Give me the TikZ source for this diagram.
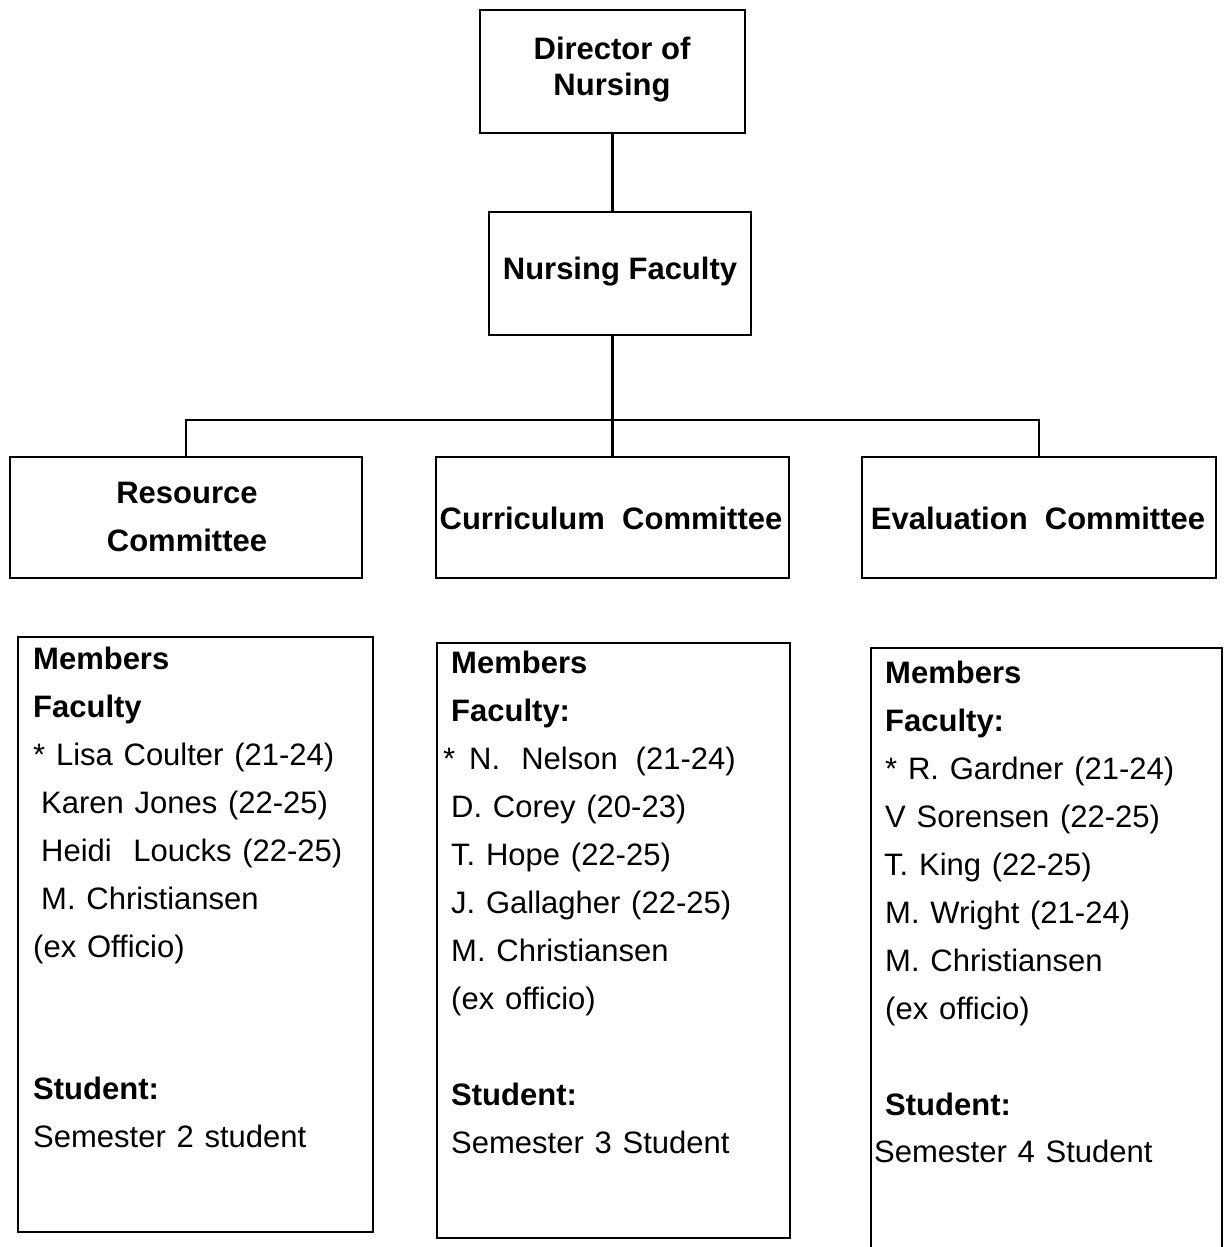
\documentclass[tikz,border=0pt]{standalone}
\usepackage{fontspec}
\setmainfont{Liberation Sans}
\newfontfamily\memfont{Liberation Sans}[WordSpace=1.25]
\begin{document}
\begin{tikzpicture}[x=1pt,y=-1pt,
  box/.style={draw=black,line width=2.6pt,inner sep=0pt,fill=white},
  head/.style={font=\bfseries\fontsize{31}{36}\selectfont,align=center,inner sep=0pt},
  mtext/.style={anchor=base west,inner sep=0pt,font=\memfont\fontsize{31}{37}\selectfont},
  link/.style={draw=black,line width=2.6pt}]
\clip (0,0) rectangle (1224,1247);
\fill[white] (0,0) rectangle (1224,1247);

% top boxes
\node[box,minimum width=265pt,minimum height=123pt] (dir) at (612.5,71.5) {};
\node[head] (dirt) at (612,70) {Director of\\[0pt]Nursing};
\node[box,minimum width=262pt,minimum height=123pt] (fac) at (620,273.5) {};
\node[head] (fact) at (620,272) {Nursing Faculty};

% committees
\node[box,minimum width=352pt,minimum height=121pt] (res) at (186,517.5) {};
\node[head,font=\bfseries\fontsize{31}{48}\selectfont] (rest) at (187,517) {Resource\\Committee};
\node[box,minimum width=353pt,minimum height=121pt] (cur) at (612.5,517.5) {};
\node[head] (curt) at (611,518) {Curriculum\ \ Committee};
\node[box,minimum width=354pt,minimum height=121pt] (eva) at (1039,517.5) {};
\node[head] (evat) at (1038,518) {Evaluation\ \ Committee};

% connectors
\coordinate (bus) at (612.5,420);
\path[link] (dir.south -| bus) -- (bus |- fac.north);
\path[link] (fac.south -| bus) -- (bus);
\path[link] (res.north) -- (res.north |- bus) -- (eva.north |- bus) -- (eva.north);
\path[link] (bus) -- (cur.north);

% member boxes
\node[box,minimum width=355pt,minimum height=595pt] (mres) at (195.5,934.5) {};
\node[box,minimum width=353pt,minimum height=595pt] (mcur) at (613.5,940.5) {};
\node[box,minimum width=351pt,minimum height=660pt] (meva) at (1046.5,978) {};

% member texts
\foreach \tx/\ty/\tt [count=\i] in {
  33/669/{\bfseries Members},
  33/717/{\bfseries Faculty},
  33/765/{* Lisa Coulter (21-24)},
  41/813/{Karen Jones (22-25)},
  41/861/{Heidi\ \ Loucks (22-25)},
  41/909/{M. Christiansen},
  33/957/{(ex Officio)},
  33/1099/{\bfseries Student:},
  33/1147/{Semester 2 student}}
  \node[mtext] (ra\i) at (\tx,\ty) {\tt};

\foreach \tx/\ty/\tt [count=\i] in {
  451/673/{\bfseries Members},
  451/721/{\bfseries Faculty:},
  443/769/{*\hspace{14pt}N.\hspace{21pt}Nelson\hspace{18pt}(21-24)},
  451/817/{D. Corey (20-23)},
  451/865/{T. Hope (22-25)},
  451/913/{J. Gallagher (22-25)},
  451/961/{M. Christiansen},
  451/1009/{(ex officio)},
  451/1105/{\bfseries Student:},
  451/1153/{Semester 3 Student}}
  \node[mtext] (rb\i) at (\tx,\ty) {\tt};

\foreach \tx/\ty/\tt [count=\i] in {
  885/683/{\bfseries Members},
  885/731/{\bfseries Faculty:},
  885/779/{* R. Gardner (21-24)},
  885/827/{V Sorensen (22-25)},
  884/875/{T. King (22-25)},
  885/923/{M. Wright (21-24)},
  885/971/{M. Christiansen},
  885/1019/{(ex officio)},
  885/1115/{\bfseries Student:},
  874/1162/{Semester 4 Student}}
  \node[mtext] (rc\i) at (\tx,\ty) {\tt};
\end{tikzpicture}
\end{document}
